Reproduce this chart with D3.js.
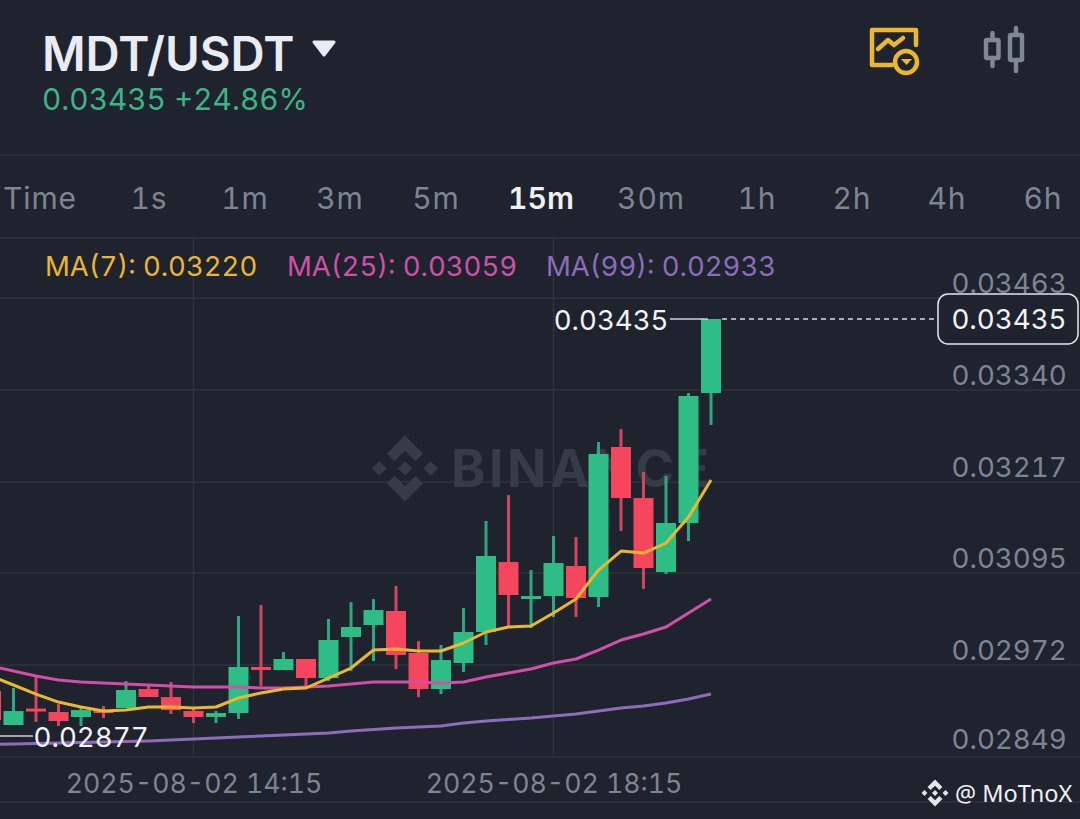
<!DOCTYPE html>
<html>
<head>
<meta charset="utf-8">
<title>MDT/USDT</title>
<script src="https://cdn.jsdelivr.net/npm/d3@7"></script>
<style>
  html, body { margin: 0; padding: 0; background: #1e232e; overflow: hidden; }
  svg { display: block; }
  text { font-family: Inter, "Noto Sans", sans-serif; font-variant-numeric: tabular-nums; }
  .axis path, .axis line { display: none; }
</style>
</head>
<body>
<div id="chart"></div>
<script>
// 15m candles, first one opens at 12:00
const startTime = Date.UTC(2025, 7, 2, 12, 0);
const opens = [0.029372, 0.028918, 0.029138, 0.029092, 0.029025, 0.029118, 0.029145, 0.029399, 0.029292, 0.029105, 0.029025,
  0.029078, 0.029694, 0.029653, 0.029801, 0.029546, 0.030095, 0.030255, 0.030443, 0.029881, 0.029399, 0.029747,
  0.030162, 0.031098, 0.030603, 0.030643, 0.031045, 0.030630, 0.032637, 0.031954, 0.030964, 0.031620, 0.033359];
const highs = [0.029466, 0.029413, 0.029560, 0.029199, 0.029145, 0.029172, 0.029506, 0.029466, 0.029493, 0.029145, 0.029105,
  0.030376, 0.030523, 0.029894, 0.029801, 0.030336, 0.030563, 0.030603, 0.030777, 0.030041, 0.029988, 0.030483,
  0.031647, 0.031994, 0.030991, 0.031446, 0.031433, 0.032704, 0.032877, 0.032302, 0.032249, 0.033359, 0.034349];
const lows = [0.028958, 0.028918, 0.028958, 0.028904, 0.028904, 0.029011, 0.029145, 0.029292, 0.029065, 0.028944, 0.028944,
  0.028998, 0.029439, 0.029653, 0.029426, 0.029506, 0.029640, 0.029774, 0.029667, 0.029292, 0.029332, 0.029627,
  0.029988, 0.030229, 0.030215, 0.030362, 0.030362, 0.030496, 0.031513, 0.030737, 0.030938, 0.031379, 0.032931];
const closes = [0.028985, 0.029105, 0.029098, 0.028971, 0.029118, 0.029078, 0.029386, 0.029292, 0.029118, 0.029025, 0.029078,
  0.029694, 0.029653, 0.029801, 0.029546, 0.030055, 0.030229, 0.030456, 0.029854, 0.029399, 0.029787, 0.030162,
  0.031179, 0.030657, 0.030643, 0.031085, 0.030617, 0.032543, 0.031954, 0.031018, 0.031620, 0.033319, 0.034349];

const ma7 = [0.029573, 0.029453, 0.029332, 0.029225, 0.029159, 0.029105, 0.029118, 0.029159, 0.029159, 0.029145, 0.029159,
  0.029279, 0.029346, 0.029399, 0.029413, 0.029546, 0.029680, 0.029921, 0.029934, 0.029908, 0.029908, 0.030015,
  0.030162, 0.030229, 0.030242, 0.030416, 0.030603, 0.030991, 0.031245, 0.031218, 0.031352, 0.031700, 0.032195];
const ma25 = [0.029707, 0.029640, 0.029573, 0.029520, 0.029493, 0.029480, 0.029466, 0.029453, 0.029439, 0.029426, 0.029426,
  0.029426, 0.029413, 0.029413, 0.029426, 0.029439, 0.029466, 0.029493, 0.029493, 0.029493, 0.029480, 0.029493,
  0.029560, 0.029613, 0.029667, 0.029747, 0.029801, 0.029921, 0.030055, 0.030135, 0.030229, 0.030416, 0.030603];
const ma99 = [0.028657, 0.028664, 0.028670, 0.028677, 0.028683, 0.028690, 0.028697, 0.028704, 0.028717, 0.028730, 0.028744,
  0.028757, 0.028771, 0.028784, 0.028797, 0.028811, 0.028837, 0.028857, 0.028878, 0.028891, 0.028904, 0.028944,
  0.028971, 0.028991, 0.029011, 0.029038, 0.029065, 0.029105, 0.029145, 0.029172, 0.029212, 0.029265, 0.029332];

const priceTicks = [0.03463, 0.0334, 0.03217, 0.03095, 0.02972, 0.02849];
const timeTicks = [Date.UTC(2025, 7, 2, 14, 15), Date.UTC(2025, 7, 2, 18, 15)];
const tabs = ['Time', '1s', '1m', '3m', '5m', '15m', '30m', '1h', '2h', '4h', '6h'];
const tabCenters = [40, 149, 245, 340, 436, 541, 651, 757, 852, 947, 1043];
const maLabels = ['MA(7): 0.03220', 'MA(25): 0.03059', 'MA(99): 0.02933'];

const width = 1080, height = 819;
const bg = '#1e232e', grid = '#2d333f', gray = '#7d8591', up = '#2ebd85', down = '#f6465d';
const upWick = '#2fa681', downWick = '#d0465f';
const maColors = ['#ecb72c', '#d24fa8', '#8d6cbc'];

const svg = d3.select('#chart').append('svg')
  .attr('width', width).attr('height', height)
  .attr('viewBox', [0, 0, width, height]);

svg.append('rect').attr('width', width).attr('height', height).attr('fill', bg);

const times = opens.map((d, i) => new Date(startTime + i * 15 * 60000));
const x = d3.scaleUtc().domain([times[0], times[times.length - 1]]).range([-9, 711]);
const y = d3.scaleLinear().domain([0.02849, 0.03463]).range([757, 298]);

// separators
svg.selectAll('.sep').data([155, 238, 802]).enter().append('line')
  .attr('x1', 0).attr('x2', width).attr('y1', d => d).attr('y2', d => d)
  .attr('stroke', grid).attr('stroke-width', 1.5);

// grid
svg.selectAll('.hgrid').data(priceTicks).enter().append('line')
  .attr('x1', 0).attr('x2', width).attr('y1', d => y(d)).attr('y2', d => y(d))
  .attr('stroke', grid).attr('stroke-width', 1.5);
svg.selectAll('.vgrid').data(timeTicks).enter().append('line')
  .attr('x1', d => x(d)).attr('x2', d => x(d)).attr('y1', 238).attr('y2', 757)
  .attr('stroke', grid).attr('stroke-width', 1.5);

function logo(g, r, color) {
  const poly = pts => g.append('polygon').attr('points', pts.map(p => [p[0] * r, p[1] * r].join(',')).join(' ')).attr('fill', color);
  const diamond = (cx, cy, s) => poly([[cx, cy - s], [cx + s, cy], [cx, cy + s], [cx - s, cy]]);
  diamond(0, 0, 0.22);
  diamond(-0.78, 0, 0.22);
  diamond(0.78, 0, 0.22);
  poly([[0, -1], [0.55, -0.45], [0.32, -0.22], [0, -0.54], [-0.32, -0.22], [-0.55, -0.45]]);
  poly([[0, 1], [0.55, 0.45], [0.32, 0.22], [0, 0.54], [-0.32, 0.22], [-0.55, 0.45]]);
}

// watermark sits under the candles
const wm = svg.append('g').attr('transform', 'translate(405,468.5)');
logo(wm, 33, '#363c47');
svg.append('text').attr('x', 451).attr('y', 487).attr('font-size', 52).attr('font-weight', 700)
  .attr('letter-spacing', 3.5).attr('fill', '#363c47').text('BINANCE');

// candles
const candles = svg.selectAll('.candle').data(times).enter().append('g').attr('class', 'candle');
candles.append('line')
  .attr('x1', d => x(d)).attr('x2', d => x(d))
  .attr('y1', (d, i) => y(highs[i])).attr('y2', (d, i) => y(lows[i]))
  .attr('stroke', (d, i) => closes[i] >= opens[i] ? upWick : downWick)
  .attr('stroke-width', 3);
candles.append('rect')
  .attr('x', d => x(d) - 10).attr('width', 20)
  .attr('y', (d, i) => y(Math.max(opens[i], closes[i])))
  .attr('height', (d, i) => Math.max(2.5, Math.abs(y(opens[i]) - y(closes[i]))))
  .attr('fill', (d, i) => closes[i] >= opens[i] ? up : down);

// moving averages
const maLine = d3.line().x((d, i) => x(times[i])).y(d => y(d));
[ma99, ma25, ma7].forEach((s, k) => {
  svg.append('path').datum(s).attr('d', maLine).attr('fill', 'none')
    .attr('stroke', maColors[2 - k]).attr('stroke-width', 3).attr('stroke-linejoin', 'round');
});

// axes
const yAxis = d3.axisRight(y).tickValues(priceTicks).tickFormat(d3.format('.5f')).tickSize(0).tickPadding(0);
const yg = svg.append('g').attr('class', 'axis').attr('transform', 'translate(951.5,0)').call(yAxis);
yg.selectAll('text').attr('fill', gray).attr('font-size', 27.7).attr('dy', d => d === 0.02849 ? '-0.32em' : '-0.2em')
  .style('font-family', 'Inter');

const timeFmt = d3.utcFormat('%Y-%m-%d %H:%M');
const xAxis = d3.axisBottom(x).tickValues(timeTicks).tickFormat(timeFmt).tickSize(0).tickPadding(0);
const xg = svg.append('g').attr('class', 'axis').attr('transform', 'translate(0,774.5)').call(xAxis);
xg.selectAll('text').attr('fill', gray).attr('font-size', 26.7).attr('dy', '0.71em')
  .style('font-family', 'Inter');

// header
svg.append('text').attr('x', 42).attr('y', 71).attr('font-size', 47.3).attr('font-weight', 600)
  .attr('fill', '#eaecf4').text('MDT/USDT');
svg.append('path').attr('d', 'M314 42H334L324 55Z').attr('fill', '#eaecf4')
  .attr('stroke', '#eaecf4').attr('stroke-width', 3).attr('stroke-linejoin', 'round');
svg.append('text').attr('x', 42).attr('y', 110).attr('font-size', 29.8)
  .attr('fill', '#3db487').text('0.03435 +24.86%');

// top right icons
const chartIcon = svg.append('g').attr('fill', 'none').attr('stroke', '#ecb72c').attr('stroke-width', 4.5)
  .attr('stroke-linecap', 'round').attr('stroke-linejoin', 'round');
chartIcon.append('path').attr('d', 'M892 65H872V30H916V45');
chartIcon.append('path').attr('d', 'M878 49L888 40L894 45L903 38');
chartIcon.append('circle').attr('cx', 906).attr('cy', 62).attr('r', 11);
svg.append('path').attr('d', 'M901 59H912L906.5 65Z').attr('fill', '#ecb72c');

const candleIcon = svg.append('g').attr('fill', 'none').attr('stroke', '#7f8694').attr('stroke-width', 4.5)
  .attr('stroke-linecap', 'round');
candleIcon.append('rect').attr('x', 986).attr('y', 40).attr('width', 12.5).attr('height', 18).attr('rx', 1);
candleIcon.append('path').attr('d', 'M992.5 33V40M992.5 58V66');
candleIcon.append('rect').attr('x', 1010).attr('y', 35).attr('width', 12).attr('height', 25).attr('rx', 1);
candleIcon.append('path').attr('d', 'M1016 28V35M1016 60V71');

// interval tabs
svg.selectAll('.tab').data(tabs).enter().append('text')
  .attr('x', (d, i) => tabCenters[i]).attr('y', 208.5).attr('text-anchor', 'middle').attr('font-size', 30)
  .attr('letter-spacing', d => d === '15m' ? 0 : 0.9)
  .attr('font-weight', d => d === '15m' ? 600 : 400)
  .attr('fill', d => d === '15m' ? '#f0f1f5' : gray).text(d => d);

// MA legend
svg.selectAll('.legend').data(maLabels).enter().append('text')
  .attr('x', (d, i) => [45, 287, 546][i]).attr('y', 276).attr('font-size', 27.5)
  .attr('fill', (d, i) => maColors[i]).text(d => d);

// high / low / last price markers
svg.append('line').attr('x1', 670).attr('x2', 708).attr('y1', y(0.03435)).attr('y2', y(0.03435))
  .attr('stroke', '#cfd2d8').attr('stroke-width', 1.5);
svg.append('text').attr('x', 668.5).attr('y', 330).attr('text-anchor', 'end').attr('font-size', 27.6)
  .attr('fill', '#f2f3f6').text('0.03435');
svg.append('line').attr('x1', 722).attr('x2', 938).attr('y1', y(0.03435)).attr('y2', y(0.03435))
  .attr('stroke', '#d8dae0').attr('stroke-width', 1.5).attr('stroke-dasharray', '5 4');
svg.append('rect').attr('x', 938).attr('y', 294).attr('width', 140).attr('height', 50).attr('rx', 10)
  .attr('fill', bg).attr('stroke', '#e4e6ea').attr('stroke-width', 1.5);
svg.append('text').attr('x', 1009).attr('y', 329).attr('text-anchor', 'middle').attr('font-size', 27.7)
  .attr('fill', '#f2f3f6').text('0.03435');

svg.append('line').attr('x1', 0).attr('x2', 33).attr('y1', y(0.02877)).attr('y2', y(0.02877))
  .attr('stroke', '#cfd2d8').attr('stroke-width', 1.5);
svg.append('text').attr('x', 33.5).attr('y', 747).attr('font-size', 27.7)
  .attr('fill', '#f2f3f6').text('0.02877');

// credit
const credit = svg.append('g').attr('transform', 'translate(935,793)');
logo(credit, 13.5, '#e3e4e8');
svg.append('text').attr('x', 955).attr('y', 802).attr('font-size', 23.5)
  .style('font-family', '"Noto Sans"').attr('fill', '#f0f1f4').text('@ MoTnoX');
</script>
</body>
</html>
